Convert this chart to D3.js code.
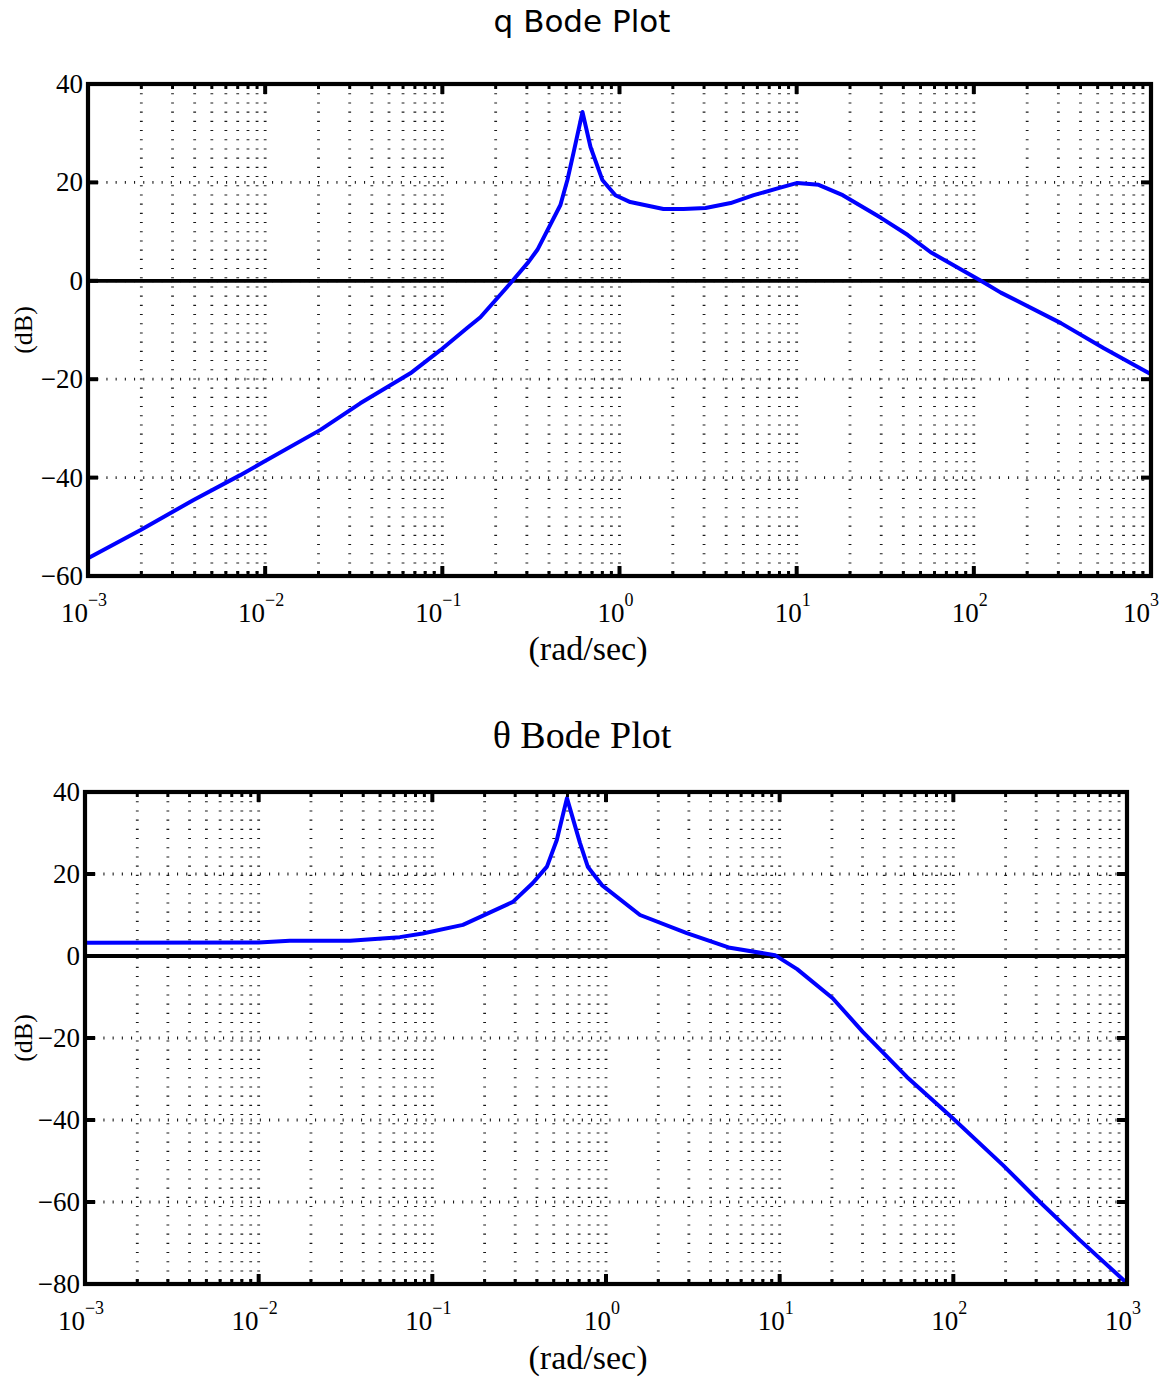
<!DOCTYPE html>
<html>
<head>
<meta charset="utf-8">
<script src="https://cdn.jsdelivr.net/npm/d3@7"></script>
<style>
  html, body { margin: 0; padding: 0; background: #fff; }
  svg { display: block; }
</style>
</head>
<body>
<svg id="fig" width="1165" height="1381"></svg>
<script>
// Pitch-rate (q) magnitude response, dB vs rad/sec
const qFreq = [0.001, 0.00197, 0.00392, 0.00723, 0.00938, 0.0205, 0.0344, 0.066, 0.0975, 0.138, 0.164,
  0.249, 0.306, 0.344, 0.464, 0.508, 0.55, 0.618, 0.686, 0.80, 0.948, 1.15, 1.77, 2.30, 3.06, 4.24,
  5.72, 7.81, 10.1, 13.3, 18.2, 29.9, 42.4, 57.1, 109.6, 142, 310, 542, 1000];
const qMag = [-56.4, -50.7, -44.6, -39.5, -37.2, -30.3, -24.9, -18.8, -14.1, -9.6, -7.4,
  0, 3.8, 6.3, 15.4, 20.5, 26, 34.3, 27.2, 20.5, 17.4, 16, 14.6, 14.6, 14.8, 15.8,
  17.4, 18.8, 19.9, 19.5, 17.4, 12.8, 9.3, 5.8, 0, -2.4, -8.6, -13.7, -19];

// Pitch-angle (theta) magnitude response, dB vs rad/sec
const thetaFreq = [0.001, 0.01, 0.0151, 0.0336, 0.065, 0.088, 0.15, 0.291, 0.379, 0.457, 0.521, 0.596,
  0.708, 0.787, 0.947, 1.57, 2.92, 5.17, 9.4, 12.6, 20.2, 30.1, 54, 99.3, 193, 315, 535, 1000];
const thetaMag = [3.25, 3.3, 3.7, 3.7, 4.6, 5.5, 7.6, 13.2, 17.8, 21.8, 28.3, 38.5,
  27.6, 21.7, 17.3, 10, 5.6, 2, 0.2, -3.2, -10.3, -18.5, -29.5, -39.6, -51, -60, -69.3, -79.8];

// Axis ticks
const xTickExps = [-3, -2, -1, 0, 1, 2, 3];
const qYTicks = [-60, -40, -20, 0, 20, 40];
const thetaYTicks = [-80, -60, -40, -20, 0, 20, 40];

const SERIF = "'Liberation Serif', 'Times New Roman', serif";
const FIG_W = 1165;
const svg = d3.select("#fig");

function bodePanel(opts) {
  const { left, right, top, bottom, freq, mag, yTicks, title, titleFont, titleSize, titleY, labelY } = opts;
  const x = d3.scaleLog().domain([1e-3, 1e3]).range([left, right]);
  const y = d3.scaleLinear().domain([yTicks[0], yTicks[yTicks.length - 1]]).range([bottom, top]);
  const g = svg.append("g");

  // minor + major decade positions
  const minor = [];
  for (let e = -3; e < 3; e++) for (let m = 2; m <= 9; m++) minor.push(m * Math.pow(10, e));
  const major = xTickExps.map(e => Math.pow(10, e));

  // vertical grid (dotted)
  g.append("g").selectAll("line").data(major.concat(minor)).join("line")
    .attr("x1", d => x(d)).attr("x2", d => x(d))
    .attr("y1", top).attr("y2", bottom)
    .attr("stroke", "#1a1a1a").attr("stroke-width", 2.8)
    .attr("stroke-dasharray", "1.1,8.1");

  // horizontal grid (dotted)
  g.append("g").selectAll("line").data(yTicks).join("line")
    .attr("x1", left).attr("x2", right)
    .attr("y1", d => y(d)).attr("y2", d => y(d))
    .attr("stroke", "#1a1a1a").attr("stroke-width", 2.8)
    .attr("stroke-dasharray", "1.1,8.1");

  // 0 dB reference line
  g.append("line")
    .attr("x1", left).attr("x2", right)
    .attr("y1", y(0)).attr("y2", y(0))
    .attr("stroke", "#000").attr("stroke-width", 3.8);

  // magnitude curve
  const pts = freq.map((f, i) => [f, mag[i]]);
  g.append("path").datum(pts)
    .attr("fill", "none").attr("stroke", "#0000ff").attr("stroke-width", 4)
    .attr("stroke-linejoin", "round")
    .attr("d", d3.line().x(d => x(d[0])).y(d => y(d[1])));

  // x ticks: top and bottom, inward
  const tk = g.append("g").attr("stroke", "#000");
  major.forEach(v => {
    tk.append("line").attr("x1", x(v)).attr("x2", x(v)).attr("y1", bottom).attr("y2", bottom - 10).attr("stroke-width", 4);
    tk.append("line").attr("x1", x(v)).attr("x2", x(v)).attr("y1", top).attr("y2", top + 10).attr("stroke-width", 4);
  });
  minor.forEach(v => {
    tk.append("line").attr("x1", x(v)).attr("x2", x(v)).attr("y1", bottom).attr("y2", bottom - 5).attr("stroke-width", 3);
    tk.append("line").attr("x1", x(v)).attr("x2", x(v)).attr("y1", top).attr("y2", top + 5).attr("stroke-width", 3);
  });
  // y ticks: left and right, inward
  yTicks.forEach(v => {
    tk.append("line").attr("x1", left).attr("x2", left + 10).attr("y1", y(v)).attr("y2", y(v)).attr("stroke-width", 4);
    tk.append("line").attr("x1", right).attr("x2", right - 10).attr("y1", y(v)).attr("y2", y(v)).attr("stroke-width", 4);
  });

  // frame
  g.append("rect")
    .attr("x", left).attr("y", top).attr("width", right - left).attr("height", bottom - top)
    .attr("fill", "none").attr("stroke", "#000").attr("stroke-width", 4.2);

  // y tick labels
  g.append("g").selectAll("text").data(yTicks).join("text")
    .attr("x", left - 5).attr("y", d => y(d) + 9)
    .attr("text-anchor", "end")
    .attr("font-family", SERIF).attr("font-size", 27)
    .text(d => d < 0 ? "\u2212" + Math.abs(d) : String(d));

  // x tick labels as 10^n, kept inside the figure
  const xl = g.append("g").selectAll("text").data(xTickExps).join("text")
    .attr("y", bottom + 46)
    .attr("text-anchor", "start")
    .attr("font-family", SERIF).attr("font-size", 27);
  xl.append("tspan").text("10");
  xl.append("tspan").attr("dy", -16).attr("font-size", 18)
    .text(d => d < 0 ? "\u2212" + Math.abs(d) : String(d));
  xl.each(function (d) {
    const w = this.getComputedTextLength();
    let x0 = x(Math.pow(10, d)) - 4 - w / 2;
    x0 = Math.min(x0, FIG_W - 6 - w);
    d3.select(this).attr("x", x0);
  });

  // axis labels
  g.append("text")
    .attr("x", 588).attr("y", labelY)
    .attr("text-anchor", "middle")
    .attr("font-family", SERIF).attr("font-size", 34)
    .text("(rad/sec)");
  g.append("text")
    .attr("transform", `translate(32,${(top + bottom) / 2}) rotate(-90)`)
    .attr("text-anchor", "middle")
    .attr("font-family", SERIF).attr("font-size", 26)
    .text("(dB)");

  // title
  g.append("text")
    .attr("x", 582).attr("y", titleY)
    .attr("text-anchor", "middle")
    .attr("font-family", titleFont).attr("font-size", titleSize)
    .text(title);
}

bodePanel({
  left: 88, right: 1151, top: 84, bottom: 576,
  freq: qFreq, mag: qMag, yTicks: qYTicks,
  title: "q Bode Plot", titleFont: "'DejaVu Sans', Verdana, sans-serif", titleSize: 31, titleY: 32,
  labelY: 660
});

bodePanel({
  left: 85, right: 1127, top: 792, bottom: 1284,
  freq: thetaFreq, mag: thetaMag, yTicks: thetaYTicks,
  title: "\u03b8 Bode Plot", titleFont: SERIF, titleSize: 38, titleY: 748,
  labelY: 1369
});
</script>
</body>
</html>
